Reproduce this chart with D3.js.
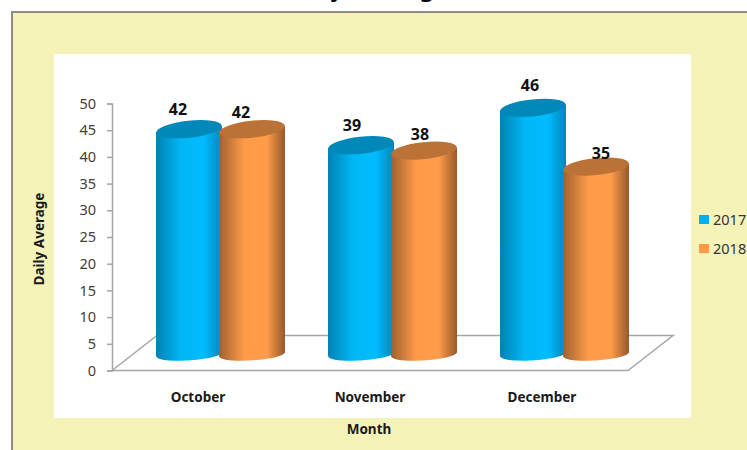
<!DOCTYPE html>
<html>
    <head>
        <title>daily-average</title>
        <script src="https://d3js.org/d3.v7.min.js"></script>
        <style>
            html, body { margin: 0; padding: 0; background: #fff; overflow: hidden; }
            text { font-family: "Noto Sans", sans-serif; }
        </style>
    </head>
    <body>
        <script>
            const months = ["October", "November", "December"];
            const years = ["2017", "2018"];
            const values2017 = [42, 39, 46];
            const values2018 = [42, 38, 35];
            const yTicks = [0, 5, 10, 15, 20, 25, 30, 35, 40, 45, 50];

            const w = 747;
            const h = 450;

            const svg = d3.select("body").append("svg")
                .attr("width", w)
                .attr("height", h)
                .style("display", "block");

            // shaded cylinder side, one gradient per series
            const defs = svg.append("defs");
            const shades = {
                "2017": ["#0082b4", "#00b8f5", "#00bbff", "#0086b8"],
                "2018": ["#9f6130", "#ff9a48", "#ff9c4a", "#96592b"]
            };
            years.forEach(y => {
                const g = defs.append("linearGradient").attr("id", "side" + y);
                [0, 0.38, 0.72, 1].forEach((o, i) => {
                    g.append("stop").attr("offset", o).attr("stop-color", shades[y][i]);
                });
            });
            const capColor = { "2017": "#0089b8", "2018": "#bb7236" };
            const legendColor = { "2017": "#00b0f0", "2018": "#ff9a48" };

            // outer frame and plot panel
            svg.append("rect").attr("x", 12).attr("y", 12).attr("width", 760).attr("height", 460)
                .attr("fill", "#f6f3b9").attr("stroke", "#8c8c8c").attr("stroke-width", 2);
            svg.append("rect").attr("x", 54).attr("y", 54).attr("width", 637).attr("height", 364)
                .attr("fill", "#fff");

            // title sits mostly above the top of the picture, as in the reference
            svg.append("text").attr("x", 367).attr("y", -4.5)
                .attr("text-anchor", "middle").attr("font-size", 25.6)
                .text("Daily Average");

            const yScale = d3.scaleLinear().domain([0, 50]).range([370.5, 103.5]);
            const xScale = d3.scaleBand().domain(months).range([112, 628]);
            const seriesScale = d3.scaleBand().domain(years).range([-63, 63]);

            // 3d floor
            const floorDx = 45, floorDy = 35;
            const floor = d3.path();
            floor.moveTo(xScale.range()[0], yScale(0));
            floor.lineTo(xScale.range()[0] + floorDx, yScale(0) - floorDy);
            floor.lineTo(xScale.range()[1] + floorDx, yScale(0) - floorDy);
            floor.lineTo(xScale.range()[1], yScale(0));
            floor.closePath();
            svg.append("path").attr("d", floor.toString())
                .attr("fill", "none").attr("stroke", "#a6a6a6").attr("stroke-width", 1.5);

            const yAxis = d3.axisLeft(yScale).tickValues(yTicks).tickSize(5).tickSizeOuter(5).tickPadding(11);
            const yG = svg.append("g").attr("transform", "translate(112,0)").call(yAxis);
            yG.selectAll("path, line").attr("stroke", "#a6a6a6").attr("stroke-width", 1.5);
            yG.selectAll("text").attr("font-size", 14.5).attr("fill", "#404040")
                .style("font-family", '"Noto Sans", sans-serif');

            const series = [
                { year: "2017", values: values2017, labelDx: [-11, -9, -3], labelDy: [-14, -14, -17] },
                { year: "2018", values: values2018, labelDx: [-11, -4, 5], labelDy: [-11, -11, -8] }
            ];
            const rx = 33, ry = 8.5, tilt = -6;
            const depth = 22.5, capLift = 17;
            const baseLeft = 356, baseRight = 352;

            series.forEach(s => {
                const g = svg.append("g").attr("class", "series-" + s.year);
                s.values.forEach((v, i) => {
                    const cx = xScale(months[i]) + xScale.bandwidth() / 2 + depth
                        + seriesScale(s.year) + seriesScale.bandwidth() / 2;
                    const capY = yScale(v) - capLift;
                    const side = d3.path();
                    side.moveTo(cx - rx, capY + 3);
                    side.lineTo(cx - rx, baseLeft);
                    side.bezierCurveTo(cx - rx + 2, baseLeft + 9, cx + rx, baseRight + 8, cx + rx, baseRight);
                    side.lineTo(cx + rx, capY - 3);
                    side.closePath();
                    g.append("path").attr("d", side.toString()).attr("fill", "url(#side" + s.year + ")");
                    g.append("ellipse").attr("cx", cx).attr("cy", capY).attr("rx", rx).attr("ry", ry)
                        .attr("transform", "rotate(" + tilt + " " + cx + " " + capY + ")")
                        .attr("fill", capColor[s.year]);
                    g.append("text").attr("x", cx + s.labelDx[i]).attr("y", capY + s.labelDy[i])
                        .attr("text-anchor", "middle").attr("font-size", 16).attr("font-weight", "bold")
                        .attr("fill", "#111").text(v);
                });
            });

            // month labels
            months.forEach(m => {
                svg.append("text").attr("x", xScale(m) + xScale.bandwidth() / 2).attr("y", 402)
                    .attr("text-anchor", "middle").attr("font-size", 13.5).attr("font-weight", "bold")
                    .attr("fill", "#1a1a1a").text(m);
            });

            svg.append("text").attr("x", 369).attr("y", 434)
                .attr("text-anchor", "middle").attr("font-size", 13.5).attr("font-weight", "bold")
                .attr("fill", "#1a1a1a").text("Month");
            svg.append("text").attr("transform", "translate(44,239) rotate(-90)")
                .attr("text-anchor", "middle").attr("font-size", 13.5).attr("font-weight", "bold")
                .attr("fill", "#1a1a1a").text("Daily Average");

            // legend
            years.forEach((y, i) => {
                const ly = 220 + i * 29;
                svg.append("rect").attr("x", 699).attr("y", ly - 5).attr("width", 10).attr("height", 9)
                    .attr("fill", legendColor[y]);
                svg.append("text").attr("x", 713).attr("y", ly + 4.5)
                    .attr("font-size", 14.5).attr("fill", "#333").text(y);
            });
        </script>
    </body>
</html>
